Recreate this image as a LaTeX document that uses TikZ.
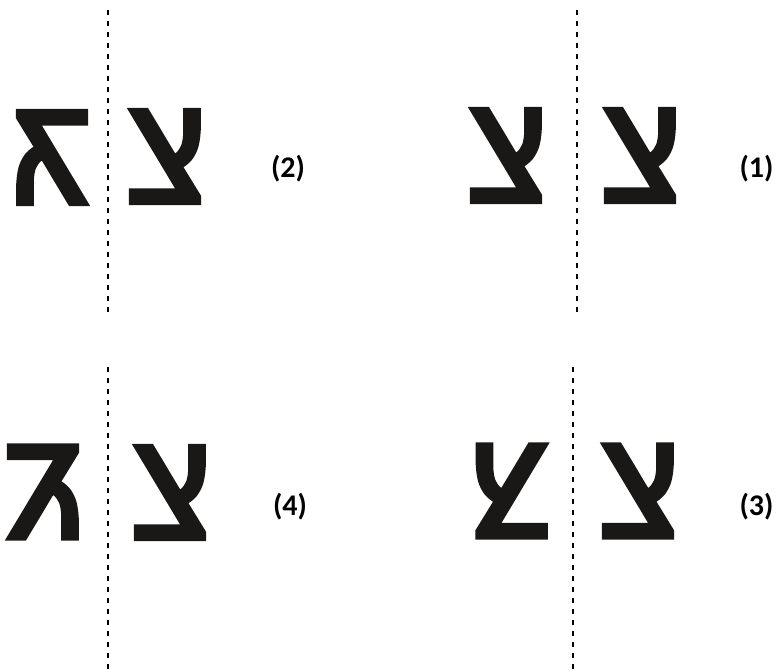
\documentclass[tikz,border=0pt]{standalone}
\usepackage{fontspec}
\setmainfont{Carlito}
\newfontfamily\hebfont[Script=Hebrew,FakeBold=3]{DejaVu Sans}
\TeXXeTstate=1
\definecolor{ink}{HTML}{1A1816}
\newcommand{\tsadi}{\scalebox{0.86}[0.98]{\beginR צ\endR}}
\begin{document}
\begin{tikzpicture}[x=1pt,y=-1pt,
  glyph/.style={inner sep=0pt, text=ink, font=\hebfont\fontsize{172}{172}\selectfont},
  lbl/.style={inner sep=0pt, font=\bfseries\fontsize{30}{30}\selectfont},
  mirrorline/.style={dash pattern=on 5pt off 6pt, line width=1.3pt}]
\useasboundingbox (0,0) rectangle (779,670);
% mirror lines
\coordinate (m2t) at (108,10);  \coordinate (m2b) at (108,313);
\coordinate (m1t) at (577,10);  \coordinate (m1b) at (577,313);
\coordinate (m4t) at (108,367); \coordinate (m4b) at (108,670);
\coordinate (m3t) at (573,367); \coordinate (m3b) at (573,670);
\draw[mirrorline] (m2t) -- (m2b);
\draw[mirrorline] (m1t) -- (m1b);
\draw[mirrorline] (m4t) -- (m4b);
\draw[mirrorline] (m3t) -- (m3b);
% (2) rotation
\node[glyph] (g2l) at (48.5,157.5) {\rotatebox{180}{\tsadi}};
\node[glyph] (g2r) at (168.5,156.5) {\tsadi};
\node[lbl] (l2) at (288,169) {(2)};
% (1) translation
\node[glyph] (g1l) at (509.5,155.5) {\tsadi};
\node[glyph] (g1r) at (643.5,155.5) {\tsadi};
\node[lbl] (l1) at (756.5,169) {(1)};
% (4) vertical flip
\node[glyph] (g4l) at (46.5,492) {\scalebox{1}[-1]{\tsadi}};
\node[glyph] (g4r) at (173.5,492.5) {\tsadi};
\node[lbl] (l4) at (290,507) {(4)};
% (3) horizontal reflection
\node[glyph] (g3l) at (508,491) {\reflectbox{\tsadi}};
\node[glyph] (g3r) at (641.5,491) {\tsadi};
\node[lbl] (l3) at (756.5,507) {(3)};
\end{tikzpicture}
\end{document}
